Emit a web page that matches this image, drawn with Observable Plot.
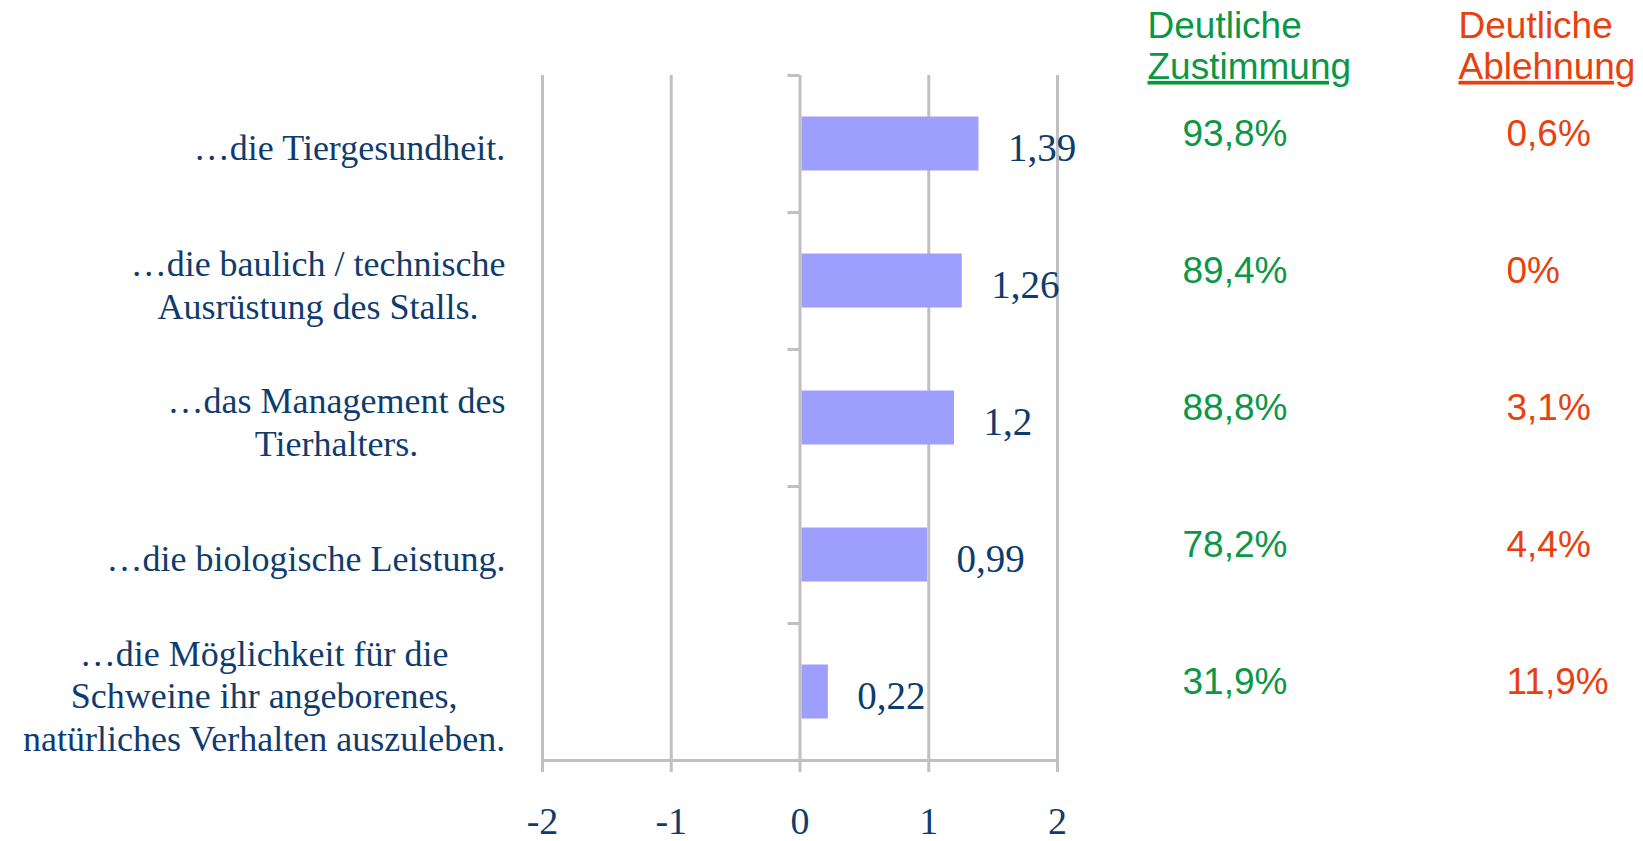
<!DOCTYPE html>
<html>
<head>
<meta charset="utf-8">
<script src="https://cdn.jsdelivr.net/npm/d3@7"></script>
<script src="https://cdn.jsdelivr.net/npm/@observablehq/plot@0.6"></script>
<style>
  html, body { margin: 0; padding: 0; background: #ffffff; }
  #chart svg { display: block; }
</style>
</head>
<body>
<div id="chart"></div>
<script>
// ---- data ----
const categories = [
  "…die Tiergesundheit.",
  "…die baulich / technische\nAusrüstung des Stalls.",
  "…das Management des\nTierhalters.",
  "…die biologische Leistung.",
  "…die Möglichkeit für die\nSchweine ihr angeborenes,\nnatürliches Verhalten auszuleben."
];
const means = [1.39, 1.26, 1.2, 0.99, 0.22];
const zustimmung = [93.8, 89.4, 88.8, 78.2, 31.9];
const ablehnung = [0.6, 0, 3.1, 4.4, 11.9];
const xTicks = [-2, -1, 0, 1, 2];
const headerZu = "Deutliche\nZustimmung";
const headerAb = "Deutliche\nAblehnung";

// ---- layout / style ----
const W = 1643, H = 841;
const mL = 542, mR = 586, mT = 75, mB = 81;
const step = (H - mT - mB) / categories.length;
const barH = 54;
const navy = "#0f3c6e", green = "#0b9746", red = "#e8410f", grid = "#c0c0c0", barColor = "#9e9eff";
const serif = "'Liberation Serif', 'Times New Roman', serif";
const sans = "'Liberation Sans', Arial, sans-serif";
const catFont = 36;

const fmt = v => String(v).replace(".", ",");
const rows = categories.map((c, i) => ({cat: c, mean: means[i], zu: zustimmung[i], ab: ablehnung[i]}));

// measure label widths for centred label blocks, right edge aligned
const ctx = document.createElement("canvas").getContext("2d");
ctx.font = `${catFont}px 'Liberation Serif'`;
const blockWidth = s => d3.max(s.split("\n"), l => ctx.measureText(l).width);

const labelMarks = categories.map(c => Plot.text([c], {
  y: d => d,
  text: d => d,
  frameAnchor: "left",
  textAnchor: "middle",
  dx: -37 - blockWidth(c) / 2,
  dy: 3,
  lineHeight: 1.17,
  fontSize: catFont,
  fontFamily: serif,
  fill: navy
}));

const chart = Plot.plot({
  width: W,
  height: H,
  marginLeft: mL,
  marginRight: mR,
  marginTop: mT,
  marginBottom: mB,
  style: {background: "#ffffff", overflow: "visible"},
  x: {domain: [-2, 2], label: null},
  y: {type: "band", domain: categories, padding: 0, label: null, axis: null},
  marks: [
    Plot.ruleX(xTicks, {stroke: grid, strokeWidth: 3}),
    Plot.frame({anchor: "bottom", stroke: grid, strokeWidth: 3}),
    Plot.ruleY(categories, {y: d => d, x1: 0, x2: 0, insetLeft: -12, dy: -step / 2, stroke: grid, strokeWidth: 3}),
    Plot.axisX({
      ticks: xTicks, tickSize: 12, tickPadding: 35,
      tickFormat: d => String(d),
      stroke: grid, strokeWidth: 3,
      fill: navy, fontSize: 38, fontFamily: serif, label: null
    }),
    Plot.barX(rows, {
      y: "cat", x1: 0, x2: "mean",
      insetTop: (step - barH) / 2, insetBottom: (step - barH) / 2,
      insetLeft: 2,
      fill: barColor
    }),
    Plot.text(rows, {
      y: "cat", x: "mean", text: d => fmt(d.mean),
      textAnchor: "start", dx: 29, dy: 5,
      fontSize: 39, fontFamily: serif, fill: navy
    }),
    ...labelMarks,
    Plot.text([headerZu], {
      frameAnchor: "top-right", textAnchor: "start", lineAnchor: "middle",
      dx: 90, dy: -30, lineHeight: 1.1,
      fontSize: 37, fontFamily: sans, fill: green
    }),
    Plot.text([headerAb], {
      frameAnchor: "top-right", textAnchor: "start", lineAnchor: "middle",
      dx: 401, dy: -30, lineHeight: 1.1,
      fontSize: 37, fontFamily: sans, fill: red
    }),
    Plot.text(rows, {
      y: "cat", text: d => fmt(d.zu) + "%",
      frameAnchor: "right", textAnchor: "start", dx: 125, dy: -10,
      fontSize: 37, fontFamily: sans, fill: green
    }),
    Plot.text(rows, {
      y: "cat", text: d => fmt(d.ab) + "%",
      frameAnchor: "right", textAnchor: "start", dx: 449, dy: -10,
      fontSize: 37, fontFamily: sans, fill: red
    })
  ]
});

d3.select(chart).selectAll("tspan")
  .filter(function() { return this.textContent === "Zustimmung" || this.textContent === "Ablehnung"; })
  .style("text-decoration", "underline");

document.getElementById("chart").appendChild(chart);
</script>
</body>
</html>
